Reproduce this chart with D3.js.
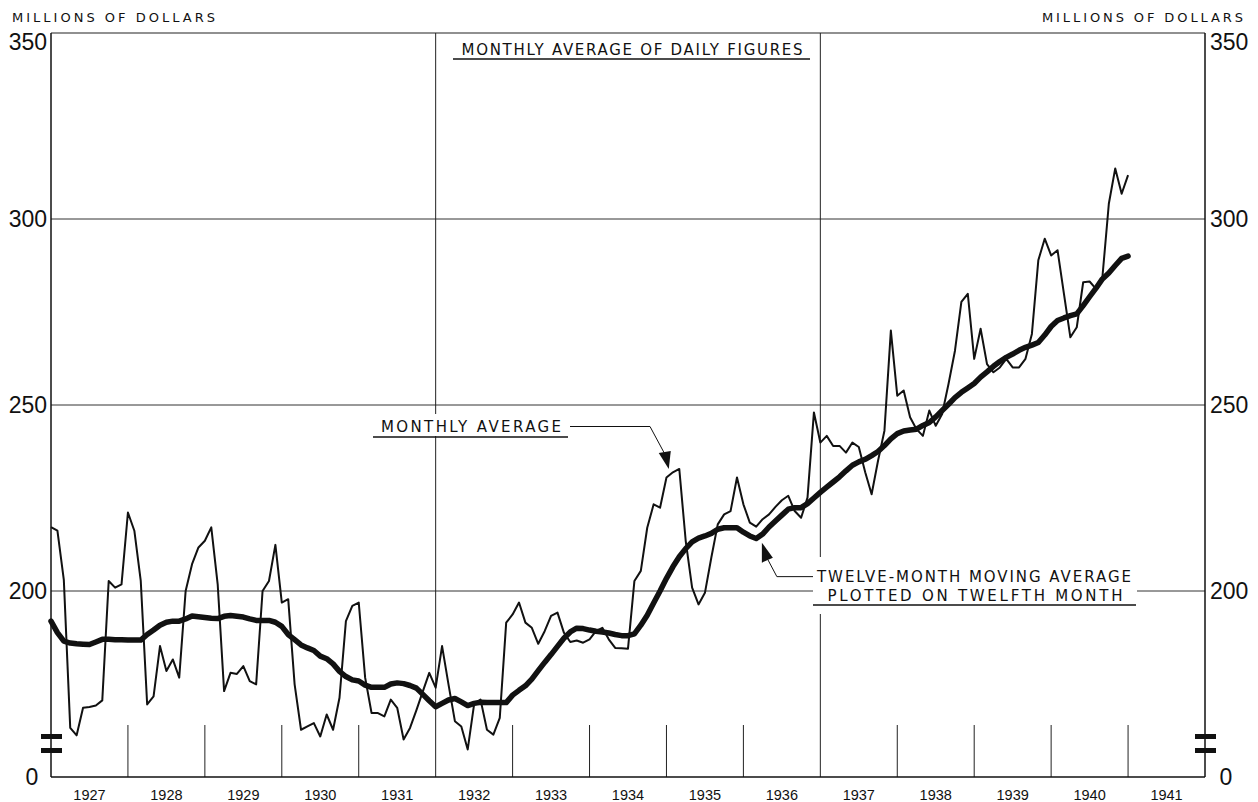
<!DOCTYPE html>
<html>
<head>
<meta charset="utf-8">
<script src="https://cdn.jsdelivr.net/npm/d3@7"></script>
<style>
    body { margin: 0; background: #fff; }
    text { font-family: "Liberation Sans", Arial, sans-serif; fill: #111; }
    .lettering { font-family: "DejaVu Sans", "Liberation Sans", sans-serif; }
</style>
</head>
<body>
<div id="chart"></div>
<script>
// first point sits on the 1927 line (Dec 1926), one value per month to Dec 1940
const firstYear = 1927;

// monthly average of daily figures, millions of dollars
const monthlyAverage = [
    217.2,
    216.2, 203.0, 163.2, 161.2, 168.6, 168.8, 169.2, 170.6, 202.7, 200.9, 201.8, 221.1,
    216.2, 202.7, 169.5, 171.7, 185.2, 178.5, 181.6, 176.7, 200.0, 207.2, 211.7, 213.5,
    217.1, 201.8, 173.1, 178.0, 177.7, 179.8, 175.8, 174.9, 200.0, 202.7, 212.4, 196.9,
    197.8, 174.9, 162.7, 163.6, 164.5, 160.9, 166.8, 162.7, 171.3, 191.9, 196.0, 196.9,
    176.7, 167.2, 167.2, 166.3, 170.8, 168.6, 160.1, 163.2, 168.0, 173.0, 178.0, 174.0,
    185.2, 174.9, 165.0, 163.6, 157.4, 169.6, 170.8, 162.7, 161.4, 165.9, 191.5, 193.7,
    196.9, 191.5, 190.1, 185.8, 189.2, 193.3, 194.2, 188.8, 186.3, 186.7, 186.1, 187.0,
    189.2, 190.1, 187.0, 184.7, 184.6, 184.5, 202.7, 205.4, 217.0, 223.3, 222.4, 230.5,
    231.9, 232.8, 213.5, 200.9, 196.4, 199.5, 209.0, 217.9, 220.6, 221.5, 230.5, 223.3,
    218.4, 217.3, 219.3, 220.6, 222.6, 224.4, 225.6, 221.5, 219.7, 225.1, 248.0, 239.9,
    241.7, 239.0, 239.0, 237.2, 239.9, 238.7, 231.9, 226.0, 235.0, 243.1, 270.0, 252.5,
    253.9, 246.7, 243.5, 241.7, 248.5, 244.4, 247.6, 255.7, 264.6, 277.7, 279.9, 262.4,
    270.5, 261.0, 258.8, 260.1, 262.4, 260.1, 260.1, 262.4, 269.1, 288.9, 294.7, 290.2,
    291.6, 279.9, 268.2, 270.9, 283.0, 283.2, 281.2, 284.4, 304.1, 313.6, 306.8, 311.8,
];

// twelve-month moving average plotted on twelfth month
const movingAverage = [
    191.9,
    188.8, 186.5, 186.0, 185.8, 185.7, 185.6, 186.3, 187.0, 187.0, 186.9, 186.9, 186.8,
    186.8, 186.8, 188.3, 189.5, 190.8, 191.6, 191.9, 191.9, 192.5, 193.3, 193.1, 192.9,
    192.7, 192.6, 193.2, 193.4, 193.2, 193.0, 192.5, 192.1, 192.1, 192.1, 191.6, 190.5,
    188.3, 186.9, 185.5, 184.7, 184.0, 182.5, 181.8, 180.4, 178.4, 177.0, 176.1, 175.8,
    174.7, 174.1, 174.1, 174.1, 175.0, 175.3, 175.1, 174.6, 173.9, 172.2, 170.5, 168.9,
    169.8, 170.7, 171.1, 170.2, 169.2, 169.8, 170.1, 170.0, 170.0, 170.0, 170.0, 172.0,
    173.3, 174.5, 176.3, 178.6, 180.8, 182.9, 185.1, 187.3, 189.0, 190.0, 189.9, 189.5,
    189.2, 189.0, 188.7, 188.3, 188.0, 188.0, 188.5, 190.8, 193.5, 196.8, 200.0, 203.4,
    206.5, 209.2, 211.4, 213.2, 214.2, 214.8, 215.5, 216.6, 217.0, 217.0, 217.0, 215.8,
    214.8, 214.1, 215.3, 217.2, 218.8, 220.4, 222.0, 222.4, 222.4, 223.5, 225.0, 226.5,
    227.9, 229.3, 230.7, 232.3, 233.8, 234.7, 235.4, 236.4, 237.5, 239.1, 240.9, 242.3,
    243.0, 243.3, 243.5, 244.5, 245.3, 246.8, 248.5, 250.2, 252.0, 253.4, 254.6, 255.8,
    257.5, 258.9, 260.4, 261.7, 262.8, 263.7, 264.7, 265.5, 266.1, 266.8, 268.8, 271.1,
    272.7, 273.4, 274.0, 274.5, 276.7, 279.1, 281.4, 283.9, 285.5, 287.5, 289.4, 290.0,
];

const yearLabels = [1927, 1928, 1929, 1930, 1931, 1932, 1933, 1934, 1935, 1936, 1937, 1938, 1939, 1940, 1941];
const yTickValues = [200, 250, 300, 350];
const gridValues = [200, 250, 300];
const fullHeightYears = [1932, 1937];
const baseLabel = '0';
const unitLabel = 'MILLIONS OF DOLLARS';

const width = 1258;
const height = 802;
const ink = '#111';

const x = d3.scaleLinear().domain([1927, 1942]).range([51, 1205]);
const y = d3.scaleLinear().domain([150, 350]).range([777, 33]);

const svg = d3
    .select('#chart')
    .append('svg')
    .attr('width', width)
    .attr('height', height);

svg.append('rect').attr('width', width).attr('height', height).attr('fill', '#fff');

// horizontal grid
svg.append('g')
    .selectAll('line')
    .data(gridValues)
    .join('line')
    .attr('x1', x(1927))
    .attr('x2', x(1942))
    .attr('y1', (d) => y(d))
    .attr('y2', (d) => y(d))
    .attr('stroke', '#333')
    .attr('stroke-width', 1);

// year boundaries: short ticks, two of them full height
const boundaries = d3.range(1928, 1942);
svg.append('g')
    .selectAll('line')
    .data(boundaries)
    .join('line')
    .attr('x1', (d) => x(d))
    .attr('x2', (d) => x(d))
    .attr('y1', y(150))
    .attr('y2', (d) => (fullHeightYears.includes(d) ? y(350) : y(150) - 52))
    .attr('stroke', '#222')
    .attr('stroke-width', 1);

// frame
svg.append('line').attr('x1', x(1927)).attr('x2', x(1942)).attr('y1', y(350)).attr('y2', y(350))
    .attr('stroke', '#222').attr('stroke-width', 1.2);
svg.append('line').attr('x1', x(1927)).attr('x2', x(1942)).attr('y1', y(150)).attr('y2', y(150))
    .attr('stroke', ink).attr('stroke-width', 1.6);
svg.append('line').attr('x1', x(1927)).attr('x2', x(1927)).attr('y1', y(350)).attr('y2', y(150))
    .attr('stroke', ink).attr('stroke-width', 1.5);
svg.append('line').attr('x1', x(1942)).attr('x2', x(1942)).attr('y1', y(350)).attr('y2', y(150))
    .attr('stroke', ink).attr('stroke-width', 1.5);

// scale break marks on both axes
[x(1927), x(1942)].forEach((ax) => {
    [y(150) - 43, y(150) - 29].forEach((by) => {
        svg.append('rect')
            .attr('x', ax - 10)
            .attr('y', by)
            .attr('width', 21)
            .attr('height', 5)
            .attr('fill', ink);
    });
});

// y labels
const yLabelY = (d) => (d === 350 ? y(d) + 17 : y(d) + 8);
svg.append('g')
    .selectAll('text')
    .data(yTickValues)
    .join('text')
    .attr('x', x(1927) - 4)
    .attr('y', yLabelY)
    .attr('text-anchor', 'end')
    .style('font-size', '23px')
    .text((d) => d);
svg.append('g')
    .selectAll('text')
    .data(yTickValues)
    .join('text')
    .attr('x', x(1942) + 5)
    .attr('y', yLabelY)
    .attr('text-anchor', 'start')
    .style('font-size', '23px')
    .text((d) => d);
svg.append('text').attr('x', x(1927) - 19).attr('y', y(150) + 8)
    .attr('text-anchor', 'middle').style('font-size', '23px').text(baseLabel);
svg.append('text').attr('x', x(1942) + 21).attr('y', y(150) + 8)
    .attr('text-anchor', 'middle').style('font-size', '23px').text(baseLabel);

// unit captions
svg.append('text').attr('class', 'lettering').attr('x', 12).attr('y', 22).attr('textLength', 203)
    .attr('lengthAdjust', 'spacing').style('font-size', '13px').text(unitLabel);
svg.append('text').attr('class', 'lettering').attr('x', 1042).attr('y', 22).attr('textLength', 201)
    .attr('lengthAdjust', 'spacing').style('font-size', '13px').text(unitLabel);

// year labels under each year
svg.append('g')
    .selectAll('text')
    .data(yearLabels)
    .join('text')
    .attr('x', (d) => x(d + 0.5))
    .attr('y', 800)
    .attr('text-anchor', 'middle')
    .style('font-size', '14.5px')
    .text((d) => d);

// masks behind the annotation labels
svg.append('rect').attr('x', 373).attr('y', 414).attr('width', 196).attr('height', 22).attr('fill', '#fff');
svg.append('rect').attr('x', 813).attr('y', 557).attr('width', 324).attr('height', 57).attr('fill', '#fff');

// data lines
const monthX = (d, i) => x(firstYear + i / 12);
const line = d3.line().x(monthX).y((d) => y(d));

svg.append('path')
    .datum(monthlyAverage)
    .attr('d', line)
    .attr('fill', 'none')
    .attr('stroke', ink)
    .attr('stroke-width', 2)
    .attr('stroke-linejoin', 'round');

svg.append('path')
    .datum(movingAverage)
    .attr('d', line)
    .attr('fill', 'none')
    .attr('stroke', ink)
    .attr('stroke-width', 5.5)
    .attr('stroke-linejoin', 'round')
    .attr('stroke-linecap', 'round');

// title box
svg.append('text').attr('class', 'lettering').attr('x', 632).attr('y', 54.5).attr('text-anchor', 'middle')
    .attr('textLength', 341).attr('lengthAdjust', 'spacing')
    .style('font-size', '15px').text('MONTHLY AVERAGE OF DAILY FIGURES');
svg.append('line').attr('x1', 453).attr('x2', 810).attr('y1', 59).attr('y2', 59)
    .attr('stroke', ink).attr('stroke-width', 1.5);

// "monthly average" callout
const tip1 = [x(1935.03), y(232.8)];
svg.append('text').attr('class', 'lettering').attr('x', 471).attr('y', 431.5).attr('text-anchor', 'middle')
    .attr('textLength', 180).attr('lengthAdjust', 'spacing')
    .style('font-size', '15px').text('MONTHLY AVERAGE');
svg.append('line').attr('x1', 373).attr('x2', 568).attr('y1', 437).attr('y2', 437)
    .attr('stroke', ink).attr('stroke-width', 1.5);
svg.append('path')
    .attr('d', `M570,426.5 H650 L${tip1[0] - 4},${tip1[1] - 15}`)
    .attr('fill', 'none').attr('stroke', ink).attr('stroke-width', 1);
svg.append('path')
    .attr('d', `M${tip1[0] - 10},${tip1[1] - 16} L${tip1[0] + 2},${tip1[1] - 18} L${tip1[0]},${tip1[1]} Z`)
    .attr('fill', ink);

// moving average callout
const tip2 = [x(1936.24), y(213)];
svg.append('path')
    .attr('d', `M${tip2[0] + 6},${tip2[1] + 17} L${tip2[0] + 15},${tip2[1] + 34} H813`)
    .attr('fill', 'none').attr('stroke', ink).attr('stroke-width', 1);
svg.append('path')
    .attr('d', `M${tip2[0]},${tip2[1]} L${tip2[0] + 11},${tip2[1] + 15} L${tip2[0]},${tip2[1] + 20} Z`)
    .attr('fill', ink);
svg.append('text').attr('class', 'lettering').attr('x', 974).attr('y', 581.5).attr('text-anchor', 'middle')
    .attr('textLength', 314).attr('lengthAdjust', 'spacing')
    .style('font-size', '15px').text('TWELVE-MONTH MOVING AVERAGE');
svg.append('text').attr('class', 'lettering').attr('x', 975).attr('y', 600.5).attr('text-anchor', 'middle')
    .attr('textLength', 295).attr('lengthAdjust', 'spacing')
    .style('font-size', '15px').text('PLOTTED ON TWELFTH MONTH');
svg.append('line').attr('x1', 813).attr('x2', 1136).attr('y1', 605).attr('y2', 605)
    .attr('stroke', ink).attr('stroke-width', 1.5);
</script>
</body>
</html>
